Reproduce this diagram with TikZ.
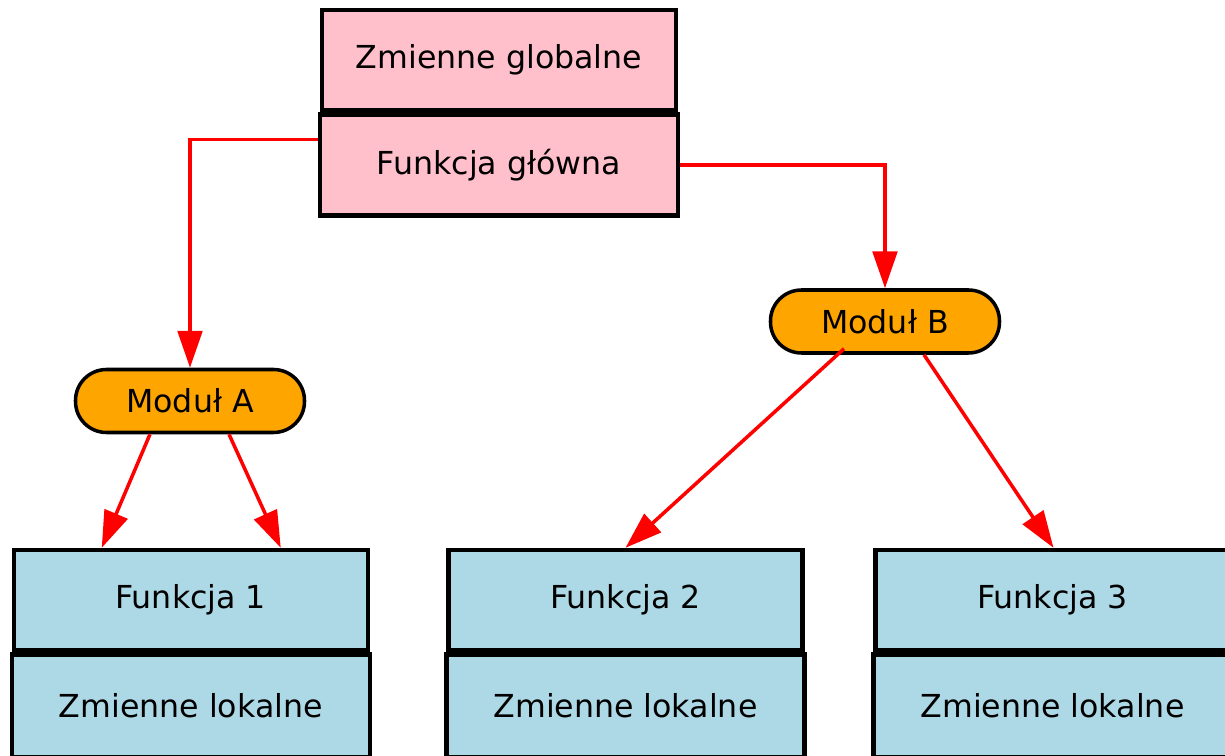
\documentclass[tikz,border=0pt]{standalone}
\usepackage{fontspec}
\setmainfont{DejaVu Sans}
\usepackage[svgnames]{xcolor}
\usetikzlibrary{arrows.meta, shapes, positioning, calc}

\begin{document}
\begin{tikzpicture}[
    x=0.02cm, y=-0.02cm,
    node distance=0pt,
    globalbox/.style={rectangle, draw=black, line width=2.5pt, fill=Pink, minimum width=354*0.02cm, minimum height=100*0.02cm, inner sep=0pt, font=\fontsize{18}{22}\selectfont},
    funcbox/.style={rectangle, draw=black, line width=2.5pt, fill=LightBlue, minimum width=354*0.02cm, minimum height=100*0.02cm, inner sep=0pt, font=\fontsize{18}{22}\selectfont},
    module/.style={rectangle, rounded corners=31*0.02cm, draw=black, line width=2pt, fill=Orange, minimum width=229*0.02cm, minimum height=63*0.02cm, inner sep=0pt, font=\fontsize{18}{22}\selectfont},
    arrow/.style={-{Triangle[length=21pt, width=14pt]}, line width=2pt, color=Red}
    ]
    \useasboundingbox (0,0) rectangle (1225,756);

    % Nodes
    \node[globalbox] (globals) at (499,60) {Zmienne globalne};
    \node[globalbox, minimum width=358*0.02cm, minimum height=101*0.02cm, below=of globals] (main) {Funkcja główna};
    \node[module] (moda) at (190,401) {Moduł A};
    \node[module] (modb) at (885,321.5) {Moduł B};
    \node[funcbox] (f1) at (190.75,600) {Funkcja 1};
    \node[funcbox, minimum width=358*0.02cm, minimum height=103*0.02cm, below=of f1] (loc1) {Zmienne lokalne};
    \node[funcbox] (f2) at (625.5,600) {Funkcja 2};
    \node[funcbox, minimum width=358*0.02cm, minimum height=103*0.02cm, below=of f2] (loc2) {Zmienne lokalne};
    \node[funcbox] (f3) at (1052.5,600) {Funkcja 3};
    \node[funcbox, minimum width=358*0.02cm, minimum height=103*0.02cm, below=of f3] (loc3) {Zmienne lokalne};

    % Edges
    \draw[arrow] ($(main.west)+(0,-25.5)$) -| (moda.north);
    \draw[arrow] (main.east) -| (modb.north);
    \draw[arrow] ($(moda.south)+(-40,0)$) -- ($(f1.north)+(-89,0)$);
    \draw[arrow] ($(moda.south)+(39,0)$) -- ($(f1.north)+(90,0)$);
    \draw[arrow] ($(modb.south)+(-41,-6)$) -- (f2.north);
    \draw[arrow] ($(modb.south)+(39,0)$) -- ($(f3.north)+(1,0)$);
\end{tikzpicture}
\end{document}
